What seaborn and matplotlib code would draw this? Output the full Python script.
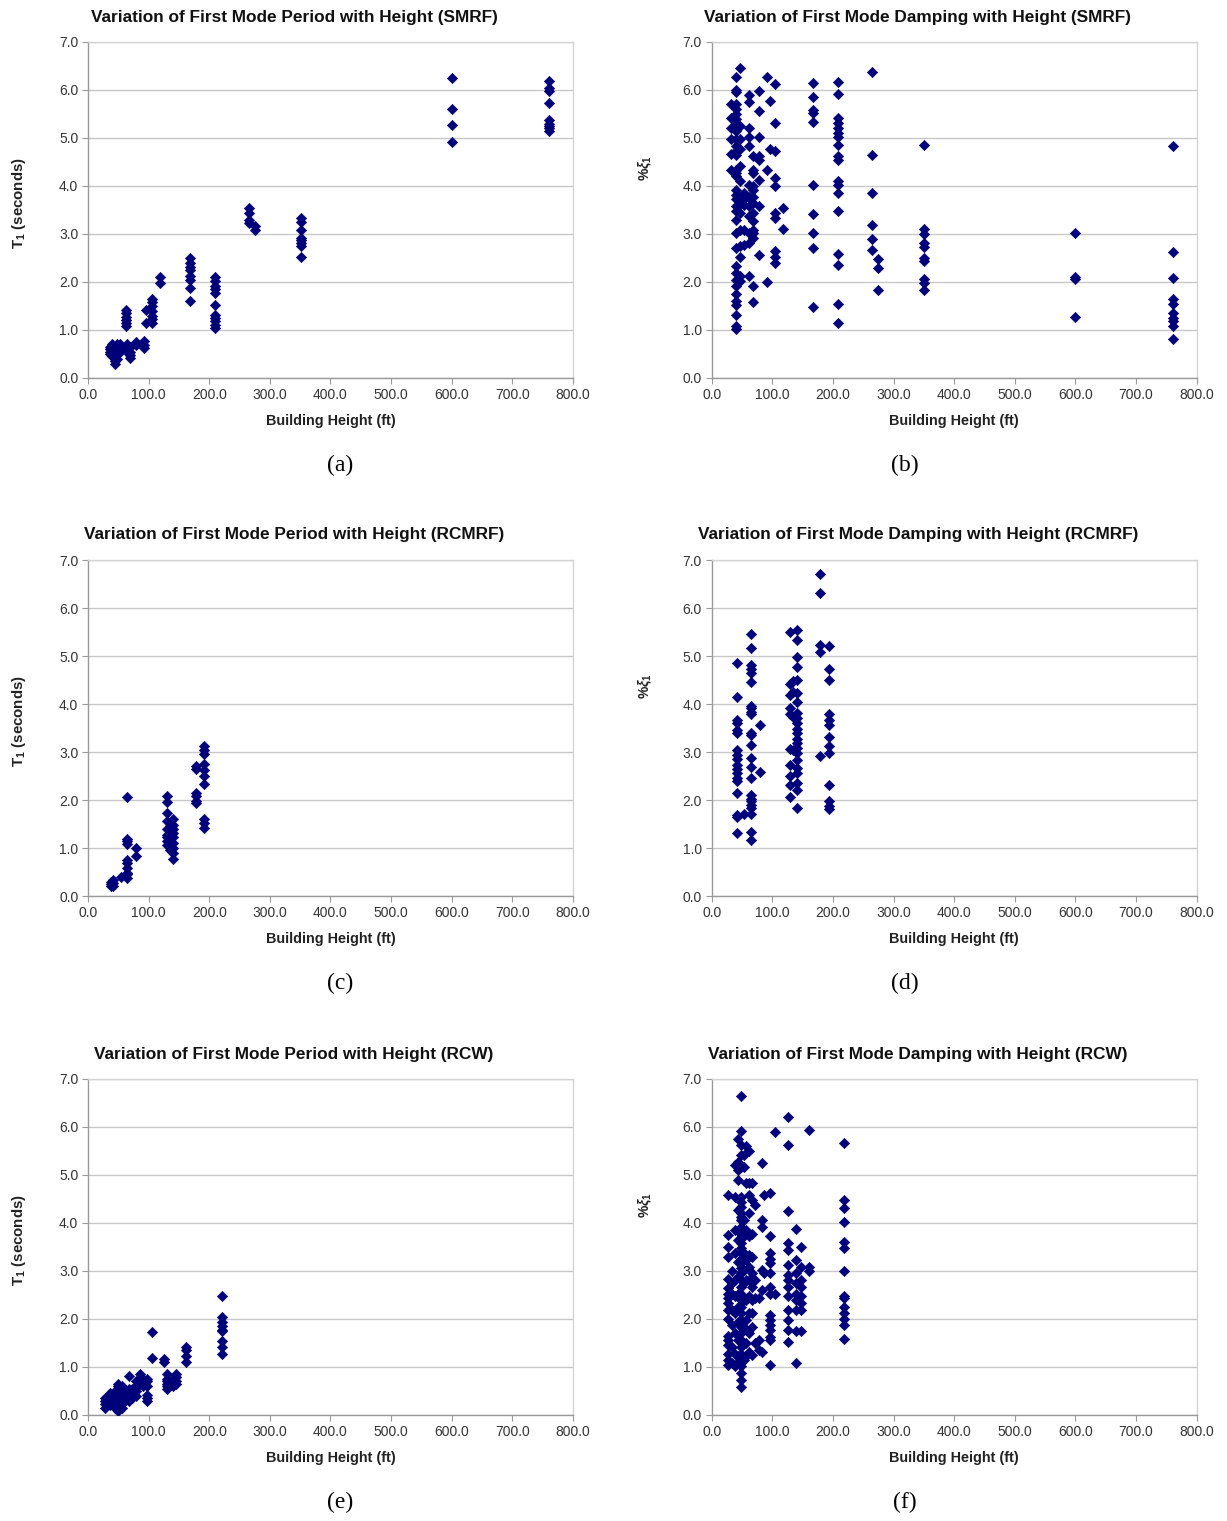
import pandas as pd
import seaborn as sns
import matplotlib.pyplot as plt
from matplotlib.ticker import FormatStrFormatter

# Data: (building height ft, [values at that height])
smrf_period = [
    (36, [0.5, 0.55, 0.6, 0.65]),
    (40, [0.45, 0.5, 0.6, 0.65, 0.7]),
    (44, [0.3, 0.35, 0.4, 0.45, 0.5, 0.55, 0.6]),
    (48, [0.4, 0.5, 0.6, 0.65, 0.7]),
    (52, [0.55, 0.6, 0.65, 0.7]),
    (63, [1.08, 1.15, 1.2, 1.28, 1.35, 1.42]),
    (65, [0.55, 0.6, 0.65, 0.7]),
    (69, [0.42, 0.48, 0.55, 0.65]),
    (79, [0.68, 0.75]),
    (92, [0.62, 0.68, 0.76]),
    (96, [1.15, 1.42]),
    (105, [1.15, 1.22, 1.3, 1.4, 1.49, 1.58, 1.65]),
    (119, [1.98, 2.1]),
    (168, [1.61, 1.88, 2.05, 2.12, 2.24, 2.32, 2.4, 2.5]),
    (209, [1.04, 1.1, 1.18, 1.25, 1.31, 1.51, 1.77, 1.85, 1.91, 2.01, 2.1]),
    (265, [3.22, 3.3, 3.44, 3.55]),
    (275, [3.09, 3.16]),
    (351, [2.51, 2.74, 2.81, 2.87, 2.91, 3.09, 3.24, 3.33]),
    (600, [4.91, 5.27, 5.6, 6.24]),
    (761, [5.14, 5.2, 5.24, 5.3, 5.38, 5.72, 5.98, 6.04, 6.19]),
]

smrf_damping = [
    (32, [4.33, 4.67, 4.97, 5.21, 5.42, 5.7]),
    (40, [1.02, 1.09, 1.32, 1.53, 1.6, 1.74, 1.91, 2.05, 2.19, 2.33, 2.71, 3.02,
          3.3, 3.47, 3.58, 3.72, 3.82, 3.92, 4.2, 4.27, 4.34, 4.65, 4.72, 4.83,
          4.97, 5.15, 5.2, 5.3, 5.4, 5.5, 5.6, 5.7, 5.95, 6.0, 6.26]),
    (46, [2.01, 2.12, 2.52, 2.74, 3.09, 3.44, 3.63, 3.78, 4.1, 4.42, 4.76, 4.97, 5.24, 6.46]),
    (54, [2.78, 3.09, 3.61, 3.72, 3.85]),
    (62, [2.12, 2.81, 3.02, 3.37, 3.58, 3.78, 4.03, 4.83, 5.03, 5.21, 5.74, 5.9]),
    (68, [1.58, 1.91, 2.92, 3.02, 3.09, 3.26, 3.44, 3.65, 3.78, 3.92, 3.99, 4.27, 4.34, 4.62]),
    (78, [2.57, 3.58, 4.13, 4.55, 4.62, 5.02, 5.57, 5.97]),
    (92, [1.99, 4.34, 6.26]),
    (96, [4.76, 5.76]),
    (104, [2.4, 2.53, 2.64, 3.33, 3.44, 3.99, 4.17, 4.72, 5.31, 6.12]),
    (117, [3.1, 3.54]),
    (167, [1.47, 2.71, 3.02, 3.42, 4.01, 5.33, 5.52, 5.58, 5.85, 6.15]),
    (208, [1.15, 1.55, 2.36, 2.58, 3.47, 3.85, 4.03, 4.1, 4.55, 4.62, 4.85, 5.03,
           5.1, 5.21, 5.31, 5.42, 5.92, 6.16]),
    (265, [2.66, 2.9, 3.19, 3.85, 4.65, 6.38]),
    (274, [1.83, 2.29, 2.48]),
    (350, [1.84, 1.97, 2.06, 2.43, 2.5, 2.73, 2.81, 2.99, 3.1, 4.86]),
    (600, [1.26, 2.06, 2.1, 3.03]),
    (761, [0.82, 1.09, 1.18, 1.25, 1.35, 1.55, 1.65, 2.08, 2.62, 4.83]),
]

rcmrf_period = [
    (38, [0.2, 0.25, 0.3]),
    (42, [0.21, 0.27, 0.33]),
    (55, [0.4]),
    (64, [0.38, 0.45, 0.49, 0.59, 0.69, 0.76, 1.08, 1.15, 1.19, 2.07]),
    (79, [0.83, 1.0]),
    (130, [1.06, 1.15, 1.24, 1.28, 1.39, 1.56, 1.74, 1.96, 2.08]),
    (135, [0.95, 1.05, 1.15, 1.3, 1.45]),
    (140, [0.78, 0.9, 1.0, 1.11, 1.22, 1.31, 1.39, 1.49, 1.6]),
    (178, [1.94, 1.98, 2.08, 2.15, 2.64, 2.71]),
    (192, [1.42, 1.53, 1.6, 2.33, 2.5, 2.62, 2.76, 2.95, 3.04, 3.12]),
]

rcmrf_damping = [
    (42, [1.32, 1.64, 1.69, 2.14, 2.4, 2.45, 2.56, 2.64, 2.73, 2.85, 2.94, 3.04,
          3.4, 3.46, 3.61, 3.67, 4.15, 4.85]),
    (54, [1.71]),
    (65, [1.17, 1.34, 1.71, 1.83, 1.9, 1.97, 2.03, 2.1, 2.45, 2.69, 2.87, 3.15,
          3.35, 3.4, 3.79, 3.84, 3.91, 3.96, 4.45, 4.64, 4.74, 4.81, 5.16, 5.46]),
    (79, [2.59, 3.56]),
    (130, [2.07, 2.31, 2.5, 2.73, 3.06, 3.79, 3.91, 4.19, 4.42, 5.51]),
    (134, [3.04, 3.74, 4.26, 4.47]),
    (140, [1.83, 2.21, 2.35, 2.56, 2.66, 2.83, 2.97, 3.08, 3.18, 3.28, 3.39, 3.49,
           3.6, 3.7, 3.81, 4.05, 4.24, 4.5, 4.78, 4.99, 5.33, 5.54]),
    (178, [2.92, 5.09, 5.23, 6.32, 6.71]),
    (194, [1.81, 1.88, 1.97, 2.31, 2.99, 3.13, 3.31, 3.56, 3.67, 3.79, 4.5, 4.74, 5.21]),
]

rcw_period = [
    (28, [0.15, 0.22, 0.3, 0.35]),
    (36, [0.2, 0.3, 0.4, 0.45]),
    (45, [0.15, 0.25, 0.3, 0.35, 0.4, 0.45, 0.5]),
    (50, [0.08, 0.12, 0.2, 0.3, 0.4, 0.5, 0.6, 0.65]),
    (56, [0.15, 0.25, 0.35, 0.45, 0.55, 0.6]),
    (61, [0.3, 0.4, 0.5]),
    (67, [0.3, 0.4, 0.55, 0.81]),
    (72, [0.35, 0.45, 0.55]),
    (79, [0.4, 0.5, 0.6, 0.7]),
    (86, [0.65, 0.75, 0.85]),
    (91, [0.6, 0.7, 0.75]),
    (98, [0.3, 0.35, 0.42, 0.6, 0.7, 0.75]),
    (106, [1.19, 1.72]),
    (125, [1.1, 1.16]),
    (130, [0.55, 0.6, 0.65, 0.7, 0.75, 0.85]),
    (140, [0.6, 0.65, 0.75]),
    (146, [0.65, 0.7, 0.8, 0.85]),
    (162, [1.1, 1.22, 1.35, 1.42]),
    (221, [1.28, 1.42, 1.55, 1.74, 1.78, 1.85, 1.94, 2.05, 2.48]),
]

rcw_damping = [
    (27, [1.04, 1.15, 1.28, 1.46, 1.56, 1.65, 2.01, 2.19, 2.33, 2.43, 2.53, 2.64,
          2.83, 3.3, 3.51, 3.75, 4.58]),
    (34, [1.08, 1.42, 1.87, 2.19, 2.53, 2.74, 2.99]),
    (39, [1.02, 1.28, 1.7, 2.12, 2.47, 2.81, 3.37, 3.85, 4.55, 5.21]),
    (43, [1.11, 1.22, 1.56, 1.94, 2.26, 2.53, 2.88, 3.19, 3.65, 4.27, 4.9, 5.1, 5.28, 5.76]),
    (48, [0.59, 0.73, 0.88, 1.02, 1.15, 1.28, 1.42, 1.56, 1.7, 1.84, 1.98, 2.12,
          2.26, 2.4, 2.53, 2.67, 2.81, 2.95, 3.06, 3.16, 3.26, 3.37, 3.47, 3.58,
          3.68, 3.78, 3.92, 4.06, 4.13, 4.2, 4.34, 4.44, 4.55, 5.17, 5.42, 5.63, 5.92, 6.65]),
    (53, [1.15, 1.49, 1.84, 2.4, 2.74, 3.02, 3.37, 3.72, 4.06, 5.17, 5.42]),
    (57, [1.22, 1.49, 1.98, 2.4, 2.81, 3.23, 3.85, 4.84, 5.6]),
    (61, [1.32, 1.7, 2.12, 2.47, 2.81, 3.09, 3.33, 3.72, 4.2, 4.58, 4.84, 5.51]),
    (67, [1.25, 1.84, 2.12, 2.4, 2.67, 2.95, 3.3, 3.78, 4.48, 4.84]),
    (71, [1.49, 2.43, 2.81, 4.38]),
    (78, [1.35, 1.56, 2.43]),
    (83, [1.32, 2.6, 3.02, 3.92, 4.06, 5.24]),
    (87, [2.95, 4.58]),
    (96, [1.04, 1.56, 1.63, 1.77, 1.87, 1.98, 2.08, 2.53, 2.67, 2.95, 3.16, 3.26,
          3.37, 3.72, 4.63]),
    (104, [2.53, 5.9]),
    (126, [1.53, 1.77, 1.98, 2.19, 2.47, 2.67, 2.81, 2.92, 3.13, 3.44, 3.58, 4.24, 5.63, 6.21]),
    (139, [1.09, 1.74, 2.19, 2.4, 2.53, 2.74, 2.95, 3.23, 3.87]),
    (148, [1.74, 2.19, 2.33, 2.47, 2.67, 2.81, 3.09, 3.49]),
    (161, [2.99, 3.09, 5.94]),
    (218, [1.58, 1.87, 2.01, 2.12, 2.26, 2.43, 2.48, 2.99, 3.47, 3.61, 4.03, 4.31, 4.47, 5.66]),
]

titles = [
    'Variation of First Mode Period with Height (SMRF)',
    'Variation of First Mode Damping with Height (SMRF)',
    'Variation of First Mode Period with Height (RCMRF)',
    'Variation of First Mode Damping with Height (RCMRF)',
    'Variation of First Mode Period with Height (RCW)',
    'Variation of First Mode Damping with Height (RCW)',
]
captions = ['(a)', '(b)', '(c)', '(d)', '(e)', '(f)']
panels = [smrf_period, smrf_damping, rcmrf_period, rcmrf_damping, rcw_period, rcw_damping]


def to_frame(columns):
    rows = [(h, v) for h, vals in columns for v in vals]
    return pd.DataFrame(rows, columns=['height', 'value'])


sns.set_theme(style='white')
plt.rcParams['font.family'] = ['Liberation Sans', 'DejaVu Sans']
plt.rcParams['mathtext.fontset'] = 'custom'
plt.rcParams['mathtext.rm'] = 'Liberation Sans:bold'
plt.rcParams['mathtext.it'] = 'Liberation Sans:bold:italic'
plt.rcParams['mathtext.bf'] = 'Liberation Sans:bold'

fig = plt.figure(figsize=(12.27, 15.21), dpi=100)

lefts = [0.0717, 0.5800]
bottoms = [0.7515, 0.4109, 0.0697]
title_x = [0.2396, 0.748]
title_y = [0.9888, 0.6483, 0.307]
cap_x = [0.2771, 0.7376]
cap_y = [0.6943, 0.3531, 0.0125]

for i, cols in enumerate(panels):
    r, c = divmod(i, 2)
    ax = fig.add_axes([lefts[c], bottoms[r], 0.3953, 0.2209])
    df = to_frame(cols)
    sns.scatterplot(data=df, x='height', y='value', ax=ax, marker='D', s=28,
                    color='#000080', edgecolor='#00006a', linewidth=0.4,
                    legend=False, zorder=3)
    ax.set_xlim(0, 800)
    ax.set_ylim(0, 7)
    ax.set_xticks(range(0, 801, 100))
    ax.set_yticks(range(0, 8))
    ax.xaxis.set_major_formatter(FormatStrFormatter('%.1f'))
    ax.yaxis.set_major_formatter(FormatStrFormatter('%.1f'))
    ax.grid(axis='y', color='#c8c8c8', linewidth=1.0, zorder=0)
    ax.set_axisbelow(True)
    ax.tick_params(axis='both', labelsize=10, colors='#333333', length=4,
                   width=0.8, direction='out', left=True, bottom=True, pad=3)
    ax.tick_params(axis='both', color='#999999')
    for side in ['left', 'bottom']:
        ax.spines[side].set_color('#999999')
        ax.spines[side].set_linewidth(1.0)
    for side in ['top', 'right']:
        ax.spines[side].set_color('#d4d4d4')
        ax.spines[side].set_linewidth(1.0)

    ax.set_xlabel('Building Height (ft)', fontsize=10.4, fontweight='bold', color='#222222')
    ax.xaxis.set_label_coords(0.5, -0.107)
    if c == 0:
        ax.set_ylabel(r'T$_1$ (seconds)', fontsize=10.8, fontweight='bold', color='#222222')
        ax.yaxis.set_label_coords(-0.124, 0.52)
    else:
        ax.set_ylabel(r'%$\xi_1$', fontsize=10, fontweight='bold', color='#222222')
        ax.yaxis.set_label_coords(-0.119, 0.625)

    fig.text(title_x[c], title_y[r], titles[i], ha='center', va='center',
             fontsize=12.4, fontweight='bold', color='#111111')
    fig.text(cap_x[c], cap_y[r], captions[i], ha='center', va='center',
             fontsize=17, family='Liberation Serif', color='black')

plt.savefig('out.png', dpi=100)
